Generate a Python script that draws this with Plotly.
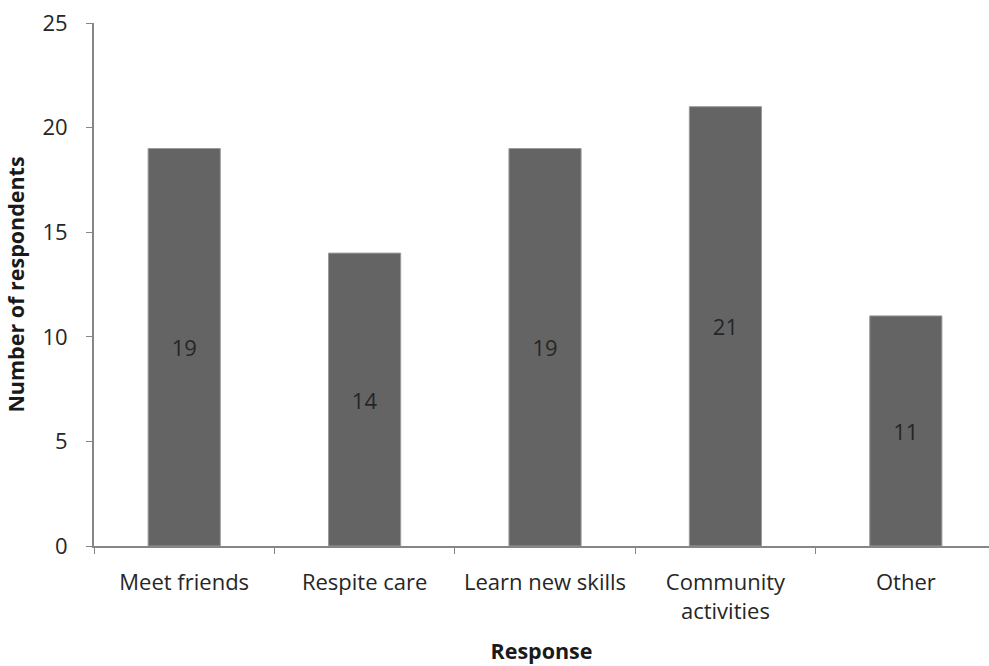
import plotly.graph_objects as go

categories = ["Meet friends", "Respite care", "Learn new skills", "Community<br>activities", "Other"]
values = [19, 14, 19, 21, 11]
y_ticks = [0, 5, 10, 15, 20, 25]

FONT = "Open Sans"
AXIS_COLOR = "#868686"
TEXT_COLOR = "#262626"

fig = go.Figure(
    go.Bar(
        x=categories,
        y=values,
        width=0.4,
        marker=dict(color="#646464", line=dict(color="#9a9a9a", width=1)),
        text=[str(v) for v in values],
        textposition="inside",
        insidetextanchor="middle",
        textangle=0,
        textfont=dict(family=FONT, size=22, color=TEXT_COLOR),
        hoverinfo="skip",
    )
)

fig.update_layout(
    width=989,
    height=666,
    margin=dict(l=94, r=0, t=23, b=120),
    plot_bgcolor="white",
    paper_bgcolor="white",
    showlegend=False,
    font=dict(family=FONT, size=22, color=TEXT_COLOR),
    uniformtext=dict(mode=False),
)

fig.update_xaxes(
    range=[-0.5, 4.461],
    showline=True,
    linecolor=AXIS_COLOR,
    linewidth=2,
    ticks="outside",
    tickson="boundaries",
    ticklen=6,
    tickwidth=1,
    tickcolor=AXIS_COLOR,
    showgrid=False,
    ticklabelstandoff=16,
    tickfont=dict(family=FONT, size=22, color=TEXT_COLOR),
    title=dict(text="<b>Response</b>", font=dict(family=FONT, size=21.5, color="#1a1a1a"), standoff=20),
)

fig.update_yaxes(
    range=[0, 25],
    tickvals=y_ticks,
    showline=True,
    linecolor=AXIS_COLOR,
    linewidth=2,
    ticks="outside",
    ticklen=6,
    tickwidth=1,
    tickcolor=AXIS_COLOR,
    showgrid=False,
    zeroline=False,
    ticklabelstandoff=14,
    tickfont=dict(family=FONT, size=22, color=TEXT_COLOR),
    title=dict(text="<b>Number of respondents</b>", font=dict(family=FONT, size=21.5, color="#1a1a1a"), standoff=12),
)

fig.write_html("out.html")
